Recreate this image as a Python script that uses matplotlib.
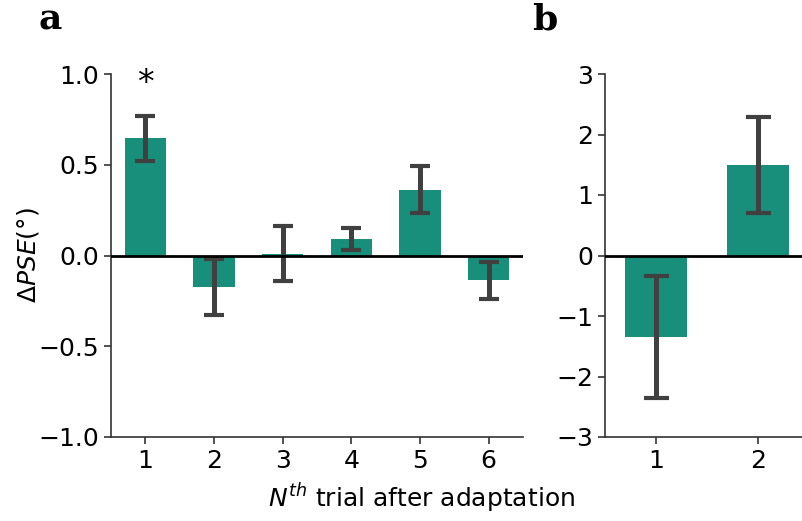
import matplotlib
matplotlib.use("Agg")
import matplotlib.pyplot as plt
import numpy as np

# Panel a data
a_labels = ["1", "2", "3", "4", "5", "6"]
a_means = [0.645, -0.175, 0.01, 0.093, 0.363, -0.137]
a_errs = [0.125, 0.155, 0.15, 0.06, 0.13, 0.1]
a_yticks = [-1.0, -0.5, 0.0, 0.5, 1.0]

# Panel b data
b_labels = ["1", "2"]
b_means = [-1.35, 1.5]
b_errs = [1.01, 0.79]
b_yticks = [-3, -2, -1, 0, 1, 2, 3]

bar_color = "#178f7a"
err_color = "#404040"

plt.rcParams['font.family'] = ['DejaVu Sans']
fig = plt.figure(figsize=(8.02, 5.21), dpi=100)
W, H = 802, 521
axa = fig.add_axes([111 / W, 1 - 437 / H, (523 - 111) / W, (437 - 74) / H])
axb = fig.add_axes([605 / W, 1 - 437 / H, (809 - 605) / W, (437 - 74) / H])

def style(ax):
    for s in ["top", "right"]:
        ax.spines[s].set_visible(False)
    for s in ["left", "bottom"]:
        ax.spines[s].set_color("#333333")
        ax.spines[s].set_linewidth(1.2)
    ax.tick_params(labelsize=18, length=5, width=1.2, color="#333333")

xa = np.arange(len(a_labels))
axa.bar(xa, a_means, width=0.6, color=bar_color, zorder=2)
axa.errorbar(xa, a_means, yerr=a_errs, fmt="none", ecolor=err_color,
             elinewidth=3.6, capsize=7, capthick=3, zorder=3)
axa.axhline(0, color="black", lw=2, zorder=4)
axa.set_xlim(-0.5, 5.5)
axa.set_ylim(-1.0, 1.0)
axa.set_yticks(a_yticks)
axa.set_xticks(xa)
axa.set_xticklabels(a_labels)
axa.set_ylabel(r"$\Delta PSE (°)$", fontsize=18, labelpad=-2)
axa.text(0, 0.95, "*", ha="center", va="center", fontsize=24)
style(axa)

xb = np.arange(len(b_labels))
axb.bar(xb, b_means, width=0.6, color=bar_color, zorder=2)
axb.errorbar(xb, b_means, yerr=b_errs, fmt="none", ecolor=err_color,
             elinewidth=3.6, capsize=9, capthick=3, zorder=3)
axb.axhline(0, color="black", lw=2, zorder=4)
axb.set_xlim(-0.5, 1.5)
axb.set_ylim(-3, 3)
axb.set_yticks(b_yticks)
axb.set_xticks(xb)
axb.set_xticklabels(b_labels)
style(axb)

fig.text(39 / W, 1 - 19 / H, "a", fontsize=26, fontweight="bold", family="DejaVu Serif", va="center")
fig.text(532 / W, 1 - 19 / H, "b", fontsize=26, fontweight="bold", family="DejaVu Serif", va="center")
fig.text(422 / W, 1 - 498 / H, r"$N^{th}$ trial after adaptation", fontsize=18, ha="center", va="center")

fig.savefig("out.png", dpi=100)
